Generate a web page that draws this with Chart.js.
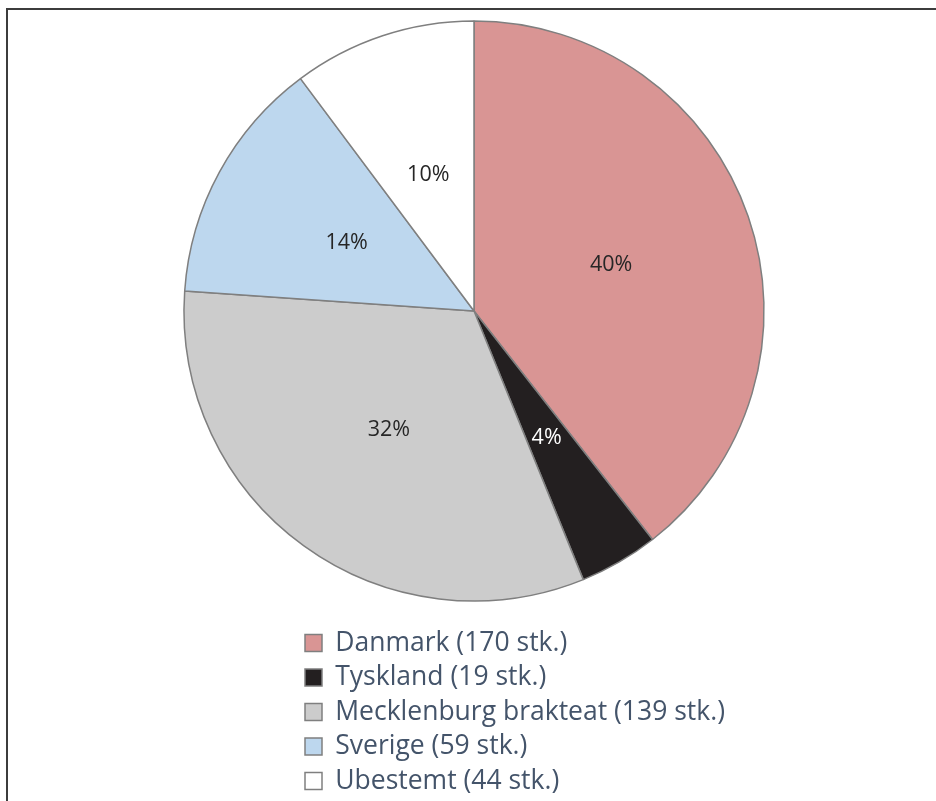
<!DOCTYPE html>
<html>
<head>
<title>Mynter|Pie</title>
<style>
body {
    margin: 0;
    background: #ffffff;
}
#frame {
    position: absolute;
    left: 6px;
    top: 8px;
    width: 930px;
    height: 793px;
    border-top: 2px solid #3c3c3c;
    border-left: 2px solid #3c3c3c;
}
canvas {
    position: absolute;
    left: 0;
    top: 0;
}
</style>
</head>
<body>
<div id="frame"></div>
<canvas id="myChart" width="936" height="801"></canvas>
<script src="https://cdn.jsdelivr.net/npm/chart.js"></script>
<script>
// data
var categories = ['Danmark', 'Tyskland', 'Mecklenburg brakteat', 'Sverige', 'Ubestemt']
var counts = [170, 19, 139, 59, 44]
var percentLabels = ['40%', '4%', '32%', '14%', '10%']

var sliceColors = ['#d99594', '#231f20', '#cccccc', '#bdd7ee', '#ffffff']

var legendLabels = []
categories.forEach((name, i) => {
    legendLabels.push(name + ' (' + counts[i] + ' stk.)')
})

// percentages in the middle of each slice
const pctLabels = {
    id: 'pctLabels',
    afterDatasetsDraw(chart) {
        const ctx = chart.ctx
        const arcs = chart.getDatasetMeta(0).data
        ctx.save()
        ctx.font = '21.5px "Open Sans"'
        ctx.textAlign = 'center'
        ctx.textBaseline = 'middle'
        arcs.forEach((arc, i) => {
            const p = arc.getCenterPoint()
            ctx.fillStyle = i === 1 ? '#ffffff' : '#262626'
            ctx.fillText(percentLabels[i], p.x, p.y + 1)
        })
        ctx.restore()
    }
}

Chart.defaults.font.family = 'Open Sans'

const ctx = document.getElementById('myChart').getContext('2d')
const myChart = new Chart(ctx, {
    type: 'pie',
    data: {
        labels: legendLabels,
        datasets: [{
            data: counts,
            backgroundColor: sliceColors,
            borderColor: '#7f7f7f',
            borderWidth: 1.5,
            radius: 290,
            clip: false
        }]
    },
    options: {
        responsive: false,
        animation: false,
        layout: {
            padding: { left: 297, right: 176, top: 0.25, bottom: -3.25 }
        },
        plugins: {
            tooltip: { enabled: false },
            // empty title on the right only keeps the pie centred while the legend gets more room
            title: {
                display: true,
                position: 'right',
                text: '',
                font: { size: 10 },
                padding: { top: 97, bottom: 0 }
            },
            legend: {
                position: 'bottom',
                align: 'start',
                labels: {
                    color: '#44546a',
                    font: { size: 26.5 },
                    boxWidth: 17,
                    boxHeight: 17,
                    padding: 8
                }
            }
        }
    },
    plugins: [pctLabels]
})
</script>
</body>
</html>
